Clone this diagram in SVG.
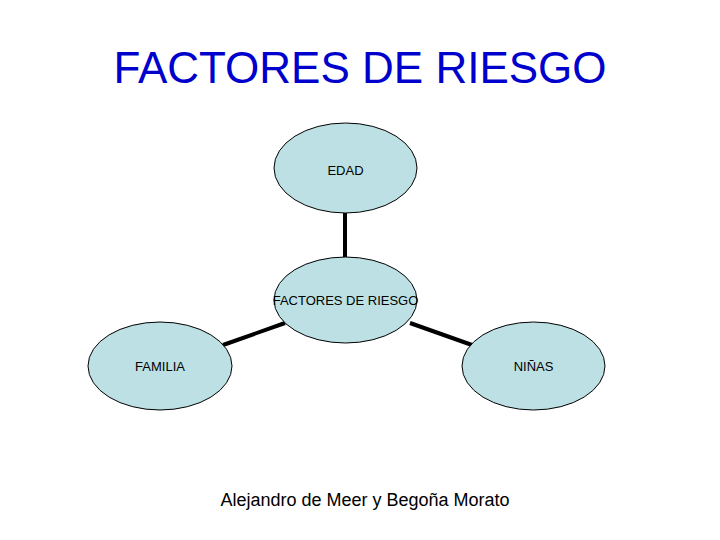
<svg xmlns="http://www.w3.org/2000/svg" width="720" height="540" viewBox="0 0 720 540">
<style>
.node ellipse{fill:#bde0e4;stroke:#000;stroke-width:1}
.lbl{font-family:"Liberation Sans",Arial,sans-serif;font-size:13px;fill:#000;text-anchor:middle}
.conn line{stroke:#000;stroke-width:4}
</style>
<rect width="720" height="540" fill="#fff"/>
<text x="360" y="83" font-family="Liberation Sans, Arial, sans-serif" font-size="44" fill="#0000cc" text-anchor="middle">FACTORES DE RIESGO</text>
<g id="connectors" class="conn">
<line x1="345" y1="213" x2="345" y2="257"/>
<line x1="223" y1="345" x2="285" y2="323"/>
<line x1="410" y1="323" x2="472" y2="345"/>
</g>
<g id="edad" class="node"><ellipse cx="345.5" cy="168" rx="71.5" ry="45"/><text class="lbl" x="345.5" y="175">EDAD</text></g>
<g id="centro" class="node"><ellipse cx="345.5" cy="300" rx="71.5" ry="43"/><text class="lbl" x="345.5" y="305">FACTORES DE RIESGO</text></g>
<g id="familia" class="node"><ellipse cx="160" cy="366" rx="72" ry="44"/><text class="lbl" x="160" y="371">FAMILIA</text></g>
<g id="ninas" class="node"><ellipse cx="533.5" cy="366" rx="71.5" ry="44"/><text class="lbl" x="533.5" y="371">NIÑAS</text></g>
<text x="365" y="506" font-family="Liberation Sans, Arial, sans-serif" font-size="18" fill="#000" text-anchor="middle">Alejandro de Meer y Begoña Morato</text>
</svg>
